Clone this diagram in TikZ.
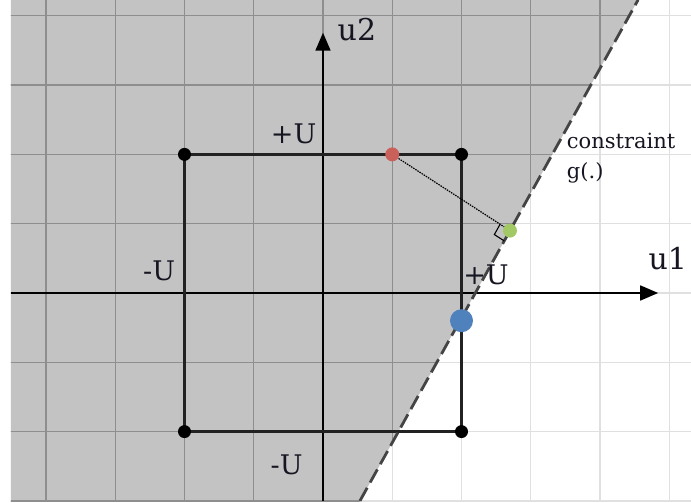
\documentclass[tikz,border=0pt]{standalone}
\usepackage{fontspec}
\setmainfont{DejaVu Serif}
\usetikzlibrary{calc,arrows.meta}
\definecolor{regiongray}{HTML}{C3C3C3}
\definecolor{gridlight}{HTML}{E0E0E0}
\definecolor{griddark}{HTML}{8E8E8E}
\definecolor{sqline}{HTML}{222222}
\definecolor{dashcol}{HTML}{444444}
\definecolor{reddot}{HTML}{C9605A}
\definecolor{greendot}{HTML}{A3C966}
\definecolor{bluedot}{HTML}{4F81BD}
\definecolor{txt}{HTML}{161622}
\tikzset{
  bigdot/.style={circle,fill=black,inner sep=0pt,minimum size=13pt},
  ulabel/.style={inner sep=0pt,text=txt,font=\fontsize{27}{30}\selectfont},
  axlabel/.style={inner sep=0pt,text=txt,font=\fontsize{30}{33}\selectfont},
  small/.style={inner sep=0pt,text=txt,font=\fontsize{21}{29}\selectfont,anchor=base west},
  axisline/.style={line width=1.8pt,black,-{Triangle[length=18pt,width=15pt]}},
}
\begin{document}
\begin{tikzpicture}[x=69.25pt,y=69.3pt]
\useasboundingbox (-323pt,-210pt) rectangle (368pt,293pt);
\fill[white] (-323pt,-210pt) rectangle (368pt,293pt);
% grid area
\coordinate (GA1) at (-312pt,-208pt);
\coordinate (GA2) at (368pt,293pt);
% constraint line
\coordinate (G) at (2.70,0.9);
\coordinate (Lb) at ($(G)+(-2.1667,-3.9)$);
\coordinate (Lt) at ($(G)+(1.85,3.33)$);
\begin{scope}
  \clip (GA1) rectangle (GA2);
  \foreach \k in {-4,...,5} \draw[gridlight,line width=1.4pt] (\k,-3.1) -- (\k,4.3);
  \foreach \k in {-3,...,4} \draw[gridlight,line width=1.4pt] (-4.7,\k) -- (5.4,\k);
  \fill[regiongray] (-4.7,-3.1) -- ($(G)+(-2.2222,-4.0)$) -- ($(G)+(1.9,3.42)$) -- (-4.7,4.32) -- cycle;
  \clip (-4.7,-3.1) -- ($(G)+(-2.2222,-4.0)$) -- ($(G)+(1.9,3.42)$) -- (-4.7,4.32) -- cycle;
  \foreach \k in {-4,...,5} \draw[griddark,line width=1.4pt] (\k,-3.1) -- (\k,4.3);
  \foreach \k in {-3,...,4} \draw[griddark,line width=1.4pt] (-4.7,\k) -- (5.4,\k);
\end{scope}
% axes
\coordinate (xs) at (-312pt,0);
\coordinate (xe) at (4.84,0);
\coordinate (ys) at (0,-208pt);
\coordinate (ye) at (0,3.756);
\draw[axisline] (xs) -- (xe);
\draw[axisline] (ys) -- (ye);
% square
\coordinate (A) at (-2,2);
\coordinate (B) at (2,2);
\coordinate (C) at (2,-2);
\coordinate (D) at (-2,-2);
\draw[sqline,line width=3.4pt,line join=miter] (A) -- (B) -- (C) -- (D) -- cycle;
% constraint dashed line
\draw[dashcol,line width=2.8pt,dash pattern=on 15pt off 6pt] (Lb) -- (Lt);
% red to green
\coordinate (R) at (1,2);
\draw[black,line width=1.2pt,dash pattern=on 1.5pt off 1pt] (R) -- (G);
% right angle mark
\coordinate (RA1) at ($(G)+(-0.1432,0.0916)$);
\coordinate (RA2) at ($(G)+(-0.2258,-0.0570)$);
\coordinate (RA3) at ($(G)+(-0.0826,-0.1486)$);
\draw[black,line width=1.1pt] (RA1) -- (RA2) -- (RA3);
% dots
\node[bigdot] (dA) at (A) {};
\node[bigdot] (dB) at (B) {};
\node[bigdot] (dC) at (C) {};
\node[bigdot] (dD) at (D) {};
\node[circle,fill=reddot,inner sep=0pt,minimum size=14pt] (dR) at (R) {};
\node[circle,fill=greendot,inner sep=0pt,minimum size=14pt] (dG) at (G) {};
\node[circle,fill=bluedot,inner sep=0pt,minimum size=23pt] (dBl) at (2,-0.40) {};
% labels
\node[axlabel] (lu2) at (0.49,3.795) {u2};
\node[axlabel] (lu1) at (4.98,0.491) {u1};
\node[ulabel] (ltop) at (-0.425,2.302) {+U};
\node[ulabel] (lleft) at (-2.366,0.317) {-U};
\node[ulabel] (lright) at (2.353,0.260) {+U};
\node[ulabel] (lbot) at (-0.526,-2.482) {-U};
\node[small] (lcon) at (3.52,2.092) {constraint};
\node[small] (lg) at (3.52,1.659) {g(.)};
\end{tikzpicture}
\end{document}
